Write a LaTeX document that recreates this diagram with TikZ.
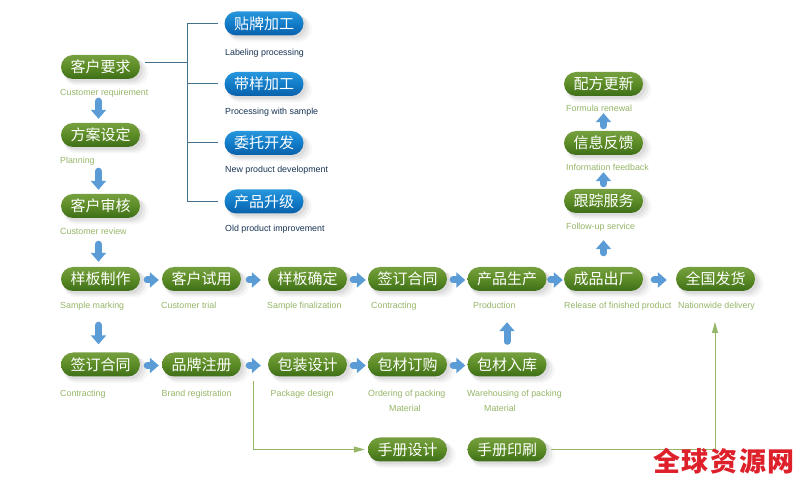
\documentclass[tikz,border=0pt]{standalone}
\usepackage{fontspec}
\setmainfont{Liberation Sans}
\newfontfamily\cjk{Noto Sans CJK SC}
\newfontfamily\stampfont[LetterSpace=6]{Noto Sans CJK SC}
\usetikzlibrary{arrows.meta,shadows}
\definecolor{leaf}{RGB}{92,140,38}
\definecolor{leaftop}{RGB}{118,160,64}
\definecolor{leafdark}{RGB}{62,110,24}
\definecolor{sky}{RGB}{18,124,200}
\definecolor{skytop}{RGB}{40,150,220}
\definecolor{skydark}{RGB}{10,96,170}
\definecolor{caption}{RGB}{150,182,104}
\definecolor{navy}{RGB}{24,52,84}
\definecolor{treeline}{RGB}{70,112,140}
\definecolor{flowblue}{RGB}{92,156,214}
\definecolor{stamp}{RGB}{222,32,42}
\tikzset{
  softshadow/.style={
    general shadow={fill=black,opacity=.03,shadow xshift=5pt,shadow yshift=-5pt,shadow scale=1.08},
    general shadow={fill=black,opacity=.05,shadow xshift=4pt,shadow yshift=-4pt,shadow scale=1.04},
    general shadow={fill=black,opacity=.06,shadow xshift=2.5pt,shadow yshift=-2.5pt,shadow scale=1.01}},
  pill/.style={softshadow,minimum width=79pt,minimum height=24pt,inner sep=0pt,rounded corners=12pt,
    text=white,font=\cjk\fontsize{15}{15}\selectfont},
  greenpill/.style={pill,top color=leaftop,bottom color=leafdark,middle color=leaf},
  bluepill/.style={pill,top color=skytop,bottom color=skydark,middle color=sky},
  greencap/.style={anchor=base west,yshift=-1pt,inner sep=0pt,text=caption,font=\fontsize{8.85}{9}\selectfont},
  bluecap/.style={anchor=base west,yshift=-1pt,inner sep=0pt,text=navy,font=\fontsize{8.85}{9}\selectfont},
  flow/.style={draw=flowblue,line width=7pt,line cap=round,-{Triangle[width=15pt,length=9pt]}},
  flowh/.style={flow,transform canvas={yshift=-1pt}},
  flowv/.style={flow,transform canvas={xshift=-2pt}},
  tree/.style={draw=treeline,line width=1pt},
  route/.style={draw=caption,line width=1pt,-{Triangle[width=6pt,length=11pt]}}
}
\begin{document}
\begin{tikzpicture}[x=1pt,y=-1pt]
  \useasboundingbox[fill=white] (0,0) rectangle (807,486);
  % left column
  \node[greenpill] (req) at (100.5,67) {客户要求};
  \node[greenpill] (plan) at (100.5,135) {方案设定};
  \node[greenpill] (review) at (100.5,206) {客户审核};
  \node[greencap] (reqcap) at (60,95) {Customer requirement};
  \node[greencap] (plancap) at (60,163) {Planning};
  \node[greencap] (reviewcap) at (60,234) {Customer review};
  % processing options
  \node[bluepill] (label) at (264,23.5) {贴牌加工};
  \node[bluepill] (sample) at (264,84) {带样加工};
  \node[bluepill] (entrust) at (264,143) {委托开发};
  \node[bluepill] (upgrade) at (264,201.5) {产品升级};
  \node[bluecap] (labelcap) at (225,55) {Labeling processing};
  \node[bluecap] (samplecap) at (225,113.5) {Processing with sample};
  \node[bluecap] (entrustcap) at (225,172) {New product development};
  \node[bluecap] (upgradecap) at (225,231) {Old product improvement};
  % first row
  \node[greenpill] (mark) at (100.5,279) {样板制作};
  \node[greenpill] (trial) at (201.5,279) {客户试用};
  \node[greenpill] (final) at (307.5,279) {样板确定};
  \node[greenpill] (sign) at (407.5,279) {签订合同};
  \node[greenpill] (prod) at (507,279) {产品生产};
  \node[greenpill] (out) at (603.5,279) {成品出厂};
  \node[greenpill] (ship) at (715.5,279) {全国发货};
  \node[greencap] (markcap) at (60,307.5) {Sample marking};
  \node[greencap] (trialcap) at (161,307.5) {Customer trial};
  \node[greencap] (finalcap) at (267,307.5) {Sample finalization};
  \node[greencap] (signcap) at (371,307.5) {Contracting};
  \node[greencap] (prodcap) at (473,307.5) {Production};
  \node[greencap] (outcap) at (564,307.5) {Release of finished product};
  \node[greencap] (shipcap) at (678,307.5) {Nationwide delivery};
  % second row
  \node[greenpill] (contract) at (100.5,364.5) {签订合同};
  \node[greenpill] (brand) at (201.5,364.5) {品牌注册};
  \node[greenpill] (pack) at (307.5,364.5) {包装设计};
  \node[greenpill] (order) at (407.5,364.5) {包材订购};
  \node[greenpill] (store) at (507,364.5) {包材入库};
  \node[greencap] (contractcap) at (60,396) {Contracting};
  \node[greencap] (brandcap) at (161.5,396) {Brand registration};
  \node[greencap] (packcap) at (270.5,396) {Package design};
  \node[greencap] (ordercap) at (368,396) {Ordering of packing};
  \node[greencap] (ordermat) at (389,410.5) {Material};
  \node[greencap] (storecap) at (467,396) {Warehousing of packing};
  \node[greencap] (storemat) at (484,410.5) {Material};
  % third row
  \node[greenpill] (manual) at (407.5,449.5) {手册设计};
  \node[greenpill] (print) at (507,449.5) {手册印刷};
  % right column
  \node[greenpill] (follow) at (603.5,201) {跟踪服务};
  \node[greenpill] (info) at (603.5,143) {信息反馈};
  \node[greenpill] (formula) at (603.5,84) {配方更新};
  \node[greencap] (followcap) at (566,229) {Follow-up service};
  \node[greencap] (infocap) at (566,170) {Information feedback};
  \node[greencap] (formulacap) at (566,111) {Formula renewal};
  % tree
  \coordinate (spine) at (187.5,63);
  \draw[tree,shorten <=5pt] (req.east |- spine) -- (spine);
  \draw[tree,shorten <=6pt] (label.west) -| (spine);
  \draw[tree,shorten <=6pt] (sample.west) -| (spine);
  \draw[tree,shorten <=6pt] (entrust.west) -| (spine);
  \draw[tree,shorten <=6pt] (upgrade.west) -| (spine);
  % down arrows
  \draw[flowv,shorten <=22pt,shorten >=4pt] (req.south) -- (plan.north);
  \draw[flowv,shorten <=24pt,shorten >=4pt] (plan.south) -- (review.north);
  \draw[flowv,shorten <=26pt,shorten >=5pt] (review.south) -- (mark.north);
  \draw[flowv,shorten <=34pt,shorten >=8pt] (mark.south) -- (contract.north);
  % up arrows
  \draw[flow,shorten <=11pt,shorten >=31pt] (store.north) -- (prod.south);
  \draw[flow,shorten <=5pt,shorten >=17pt] (info.north) -- (formula.south);
  \draw[flow,shorten <=5pt,shorten >=17pt] (follow.north) -- (info.south);
  \draw[flow,shorten <=14pt,shorten >=27pt] (out.north) -- (follow.south);
  % right arrows
  \draw[flowh,shorten <=7pt,shorten >=3pt] (mark.east) -- (trial.west);
  \draw[flowh,shorten <=8pt,shorten >=7pt] (trial.east) -- (final.west);
  \draw[flowh,shorten <=6pt,shorten >=2pt] (final.east) -- (sign.west);
  \draw[flowh,shorten <=6pt,shorten >=2pt] (sign.east) -- (prod.west);
  \draw[flowh,shorten <=4pt,shorten >=1pt] (prod.east) -- (out.west);
  \draw[flowh,shorten <=11pt,shorten >=9pt] (out.east) -- (ship.west);
  \draw[flowh,shorten <=7pt,shorten >=3pt] (contract.east) -- (brand.west);
  \draw[flowh,shorten <=8pt,shorten >=7pt] (brand.east) -- (pack.west);
  \draw[flowh,shorten <=6pt,shorten >=2pt] (pack.east) -- (order.west);
  \draw[flowh,shorten <=6pt,shorten >=2pt] (order.east) -- (store.west);
  % green routes
  \coordinate (routestart) at (253.5,381);
  \coordinate (routeend) at (715,322);
  \draw[route,shorten >=3pt] (routestart) |- (manual.west);
  \draw[route,shorten <=4pt] (print.east) -| (routeend);
  \node[anchor=west,inner sep=0pt,text=stamp,font=\stampfont\bfseries\fontsize{27}{27}\selectfont] (stamp) at (653,461) {全球资源网};
\end{tikzpicture}
\end{document}
